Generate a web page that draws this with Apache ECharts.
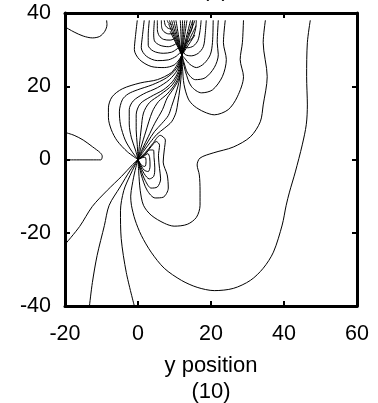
<!DOCTYPE html>
<html><head><meta charset="utf-8">
<script src="https://cdn.jsdelivr.net/npm/echarts@6/dist/echarts.min.js"></script>
<style>html,body{margin:0;padding:0;background:#fff}#c{width:378px;height:403px}</style>
</head><body><div id="c"></div>
<script>
// axis setup
const xRange = [-20, 60];
const yRange = [-40, 40];
const xLabel = 'y position\n(10)';
const titleText = '(a)';

// contour lines, data coordinates [x, y]
const cTopLeftBlob = [[-20,36.2],[-17.5,34.8],[-15,33.7],[-12.5,33.2],[-10.5,33.6],[-9.1,35],[-8.5,36.8],[-8.6,38]];
const cLeftBlob = [[-20,7.4],[-17.5,6.6],[-15,5.3],[-12.5,3.5],[-10.3,1.8],[-9.8,0.9],[-10.2,-0.1],[-20,-0.1]];
const cLeftEdge = [[-20,-23.2],[-16,-18.3],[-12.5,-12.8],[-8.4,-8.4],[-4.5,-4.6],[-1.5,-1.4],[0,0]];
const cBottom1 = [[-13.3,-40],[-12.5,-33.6],[-11.2,-26.2],[-9.2,-18.0],[-7.9,-12.5],[-4.9,-7.5],[-2.1,-2.9],[0,0]];
const cBottom2 = [[-1,-40],[-3.2,-30.9],[-4.6,-21.6],[-4.8,-14],[-3.9,-8.5],[-2.2,-4.4],[-0.8,-1.5],[0,0]];
const cBig = [[0,0],[-0.8,-3],[-1.6,-7],[-2.0,-10],[-1.8,-12.5],[-0.8,-16.5],[0.9,-20.7],[3.6,-25.3],[7.2,-29.7],[11.9,-33.0],[16.2,-34.9],[20.9,-35.8],[26.1,-35.2],[30.8,-33.0],[34.3,-29.7],[37.1,-25.3],[39.5,-17.9],[40.6,-12.5],[41.5,-8.9],[43.1,-3.4],[45.0,4.0],[46.1,9.5],[46.4,14.9],[46.2,22.6],[46.4,31.9],[47.2,38]];
const cU = [[0,0],[0.2,-3.4],[0.6,-8.4],[1.5,-12.5],[3.6,-15.2],[7.2,-17.4],[9.9,-18.2],[13.5,-17.7],[16.0,-15.8],[17.0,-12.5],[17.0,-8.4],[16.8,-4.2],[16.2,-1.5],[17.0,0.4],[20.6,1.8],[26.1,3.4],[30.8,6.2],[33.5,10.3],[34.3,14.9],[35.4,22.6],[34.3,31.9],[34.9,38]];
const loop1 = [[0,0],[2.0,1.9],[4.0,4.3],[6.1,6.6],[7.5,5.3],[7.2,2.6],[6.9,-0.7],[8.0,-4.2],[8.3,-7.8],[6.9,-10.3],[4.7,-10.5],[2.5,-8.4],[0.9,-4.2],[0,0]];
const loop2 = [[0,0],[1.9,1.5],[3.6,3.5],[5.0,4.9],[5.9,3.9],[5.6,1.0],[5.9,-2.5],[6.2,-5.3],[5.3,-7.5],[3.6,-7.8],[2.0,-5.8],[0.7,-2.6],[0,0]];
const loop3 = [[0,0],[1.8,1.2],[3.2,2.6],[4.2,2.6],[4.4,0.5],[4.6,-2.3],[4.3,-4.6],[3.1,-5.3],[1.7,-3.9],[0.6,-1.7],[0,0]];
const loop4 = [[0,0],[1.6,0.9],[2.7,1.6],[3.2,0.5],[3.3,-1.8],[2.8,-3.3],[1.7,-2.9],[0.5,-1.1],[0,0]];
const loop5 = [[0,0],[1.2,0.5],[2.0,0.6],[2.2,-0.6],[1.9,-1.9],[1.0,-1.6],[0,0]];
const tb1 = [[0,0],[-2.9,2.1],[-5.7,5.1],[-7.3,8.1],[-8.1,11.4],[-8.1,14.1],[-7.1,17.1],[-4.3,19.3],[0.6,20.9],[5.3,21.8],[9.1,23.7],[10.8,26.0],[12,28.5]];
const tb2 = [[0,0],[-1.6,2.1],[-3.5,5.3],[-4.8,9.5],[-5.1,13.0],[-4.3,16.3],[-2.7,17.9],[-0.2,19.0],[3.9,20.4],[7.8,22.3],[10.5,24.8],[12,28.5]];
const tb3 = [[0,0],[-0.7,2.6],[-1.8,5.9],[-2.4,9.7],[-2.4,13.6],[-1.3,16.0],[1.5,17.9],[5.3,19.6],[8.6,21.8],[10.8,24.5],[12,28.5]];
const tb4 = [[0,0],[-0.2,4.0],[-0.5,8.1],[-0.5,12.2],[0.6,15.2],[3.4,17.1],[6.9,19.0],[9.4,21.2],[11.0,24.0],[12,28.5]];
const tb5 = [[0,0],[0.4,4.0],[0.9,8.6],[1.5,12.7],[3.1,15.5],[6.1,17.7],[9.4,20.4],[11.3,24.0],[12,28.5]];
const tb6 = [[0,0],[0.8,3.2],[2.1,7.5],[3.9,13.0],[5.6,15.8],[8.0,17.9],[10.2,20.7],[11.6,24.0],[12,28.5]];
const tb7 = [[0,0],[1.2,2.9],[2.8,6.2],[4.6,9.9],[6.7,13.6],[8.0,16.8],[9.9,19.6],[11.3,22.3],[12,28.5]];
const tb8 = [[0,0],[1.3,2.5],[2.8,5.0],[4.5,7.6],[6.5,9.8],[8.3,12],[9.2,14.5],[10.2,17.5],[11.2,21],[11.8,25],[12,28.5]];
const tb9 = [[0,0],[1.5,2.2],[3.3,4.6],[5.2,6.9],[7.2,8.5],[9.2,10.3],[10.4,12.8],[10.9,15.5],[11.5,19.5],[11.9,24],[12,28.5]];
const jr0 = [[28.9,38],[28.6,31.9],[28.0,27.3],[28.9,22.6],[27.2,17.1],[24.7,13.6],[20.9,12.2],[18.1,13.0],[15.4,14.6],[13.8,16.5],[12.6,20.5],[12.2,25.0],[12,28.5]];
const jr1 = [[23.9,38],[23.4,31.9],[24.2,27.3],[23.1,22.6],[20.4,19.0],[17.4,18.2],[14.6,20.0],[13.0,24.0],[12.3,27],[12,28.5]];
const jr2 = [[22.0,38],[21.7,31.9],[22.0,28.6],[20.9,25.1],[18.4,22.3],[15.7,21.8],[13.6,23.6],[12.6,26.5],[12,28.5]];
const jr3 = [[20.6,38],[20.4,31.9],[19.8,28.6],[18.1,26.2],[16.0,25.1],[14.2,26.0],[12.8,27.6],[12,28.5]];
const jr4 = [[18.7,38],[18.4,34.1],[17.9,30.8],[16.5,29.0],[14.6,28.3],[13.0,28.6],[12.4,29.5]];
const jr5 = [[17.3,38],[17.0,35.2],[16.4,32.5],[15.2,31.0],[13.6,30.5],[12.8,30.8]];
const jr6 = [[16.0,38],[15.8,35.8],[15.3,34],[14.4,32.6],[13.3,32.2]];
const jr7 = [[15.0,38],[14.9,36.3],[14.5,35],[13.8,34]];
const jl1 = [[-0.2,38],[-0.7,33.6],[-1.0,30.0],[0.4,27.3],[3.6,25.4],[7.2,25.1],[9.9,25.8],[11.3,27.3],[12,28.5]];
const jl2 = [[1.7,38],[1.2,33.6],[0.9,30.5],[2.3,28.2],[5.3,27.0],[8.3,27.2],[10.5,28.2],[11.6,29.3]];
const jl3 = [[3.1,38],[2.8,34],[2.8,31.2],[4.2,29.6],[6.9,29.0],[9.2,29.3],[10.7,30.2],[11.3,30.8]];
const jl4 = [[4.5,38],[4.3,34.5],[4.5,32.4],[6,31.2],[8.3,30.8],[9.9,31.3],[10.9,32.0]];
const jl5 = [[5.3,38],[5.3,35.5],[5.8,33.8],[7.0,32.8],[8.8,32.6],[10.5,33.2]];
const jl6 = [[6.4,38],[6.5,36],[7.1,34.9],[8.4,34.3],[10.0,34.4]];
const jl7 = [[7.2,38],[7.5,36.6],[8.3,35.8],[9.6,35.6]];
const jl8 = [[8.0,38],[8.4,37.2],[9.3,36.9]];
// dense bundle inside the top singular region
const tf1 = [[8.6,38],[12,28.5]];
const tf2 = [[9.2,38],[12,28.5]];
const tf3 = [[9.8,38],[12,28.5]];
const tf4 = [[10.4,38],[12,28.5]];
const tf5 = [[11.6,38],[12,28.5]];
const tf6 = [[12.2,38],[12,28.5]];
const tf7 = [[12.8,38],[12,28.5]];
const tf8 = [[13.4,38],[12,28.5]];
const tf9 = [[14.4,38],[12,28.5]];
const tf10 = [[15.0,38],[12,28.5]];
const tf11 = [[15.6,38],[12,28.5]];
const tf12 = [[8.4,37],[12,28.5]];
const tf13 = [[15.9,36.5],[12,28.5]];
const tf14 = [[8.8,35],[12,28.5]];
const tf15 = [[15.6,34],[12,28.5]];

const contours = [cTopLeftBlob,cLeftBlob,cLeftEdge,cBottom1,cBottom2,cBig,cU,
  loop1,loop2,loop3,loop4,loop5,tb1,tb2,tb3,tb4,tb5,tb6,tb7,tb8,tb9,
  jr0,jr1,jr2,jr3,jr4,jr5,jr6,jr7,jl1,jl2,jl3,jl4,jl5,jl6,jl7,jl8,
  tf1,tf2,tf3,tf4,tf5,tf6,tf7,tf8,tf9,tf10,tf11,tf12,tf13,tf14,tf15];

const FONT = 'Liberation Sans, Arial, sans-serif';
const chart = echarts.init(document.getElementById('c'), null, {renderer:'canvas'});
const axisCommon = {
  type:'value', splitLine:{show:false},
  axisLine:{show:true, onZero:false, lineStyle:{color:'#000', width:3}},
  axisTick:{show:true, inside:true, length:5, lineStyle:{color:'#000', width:2}},
};
chart.setOption({
  animation:false,
  backgroundColor:'#fff',
  title:{text:titleText, left:197, top:-26, textStyle:{fontSize:22, fontWeight:'normal', color:'#000', fontFamily:FONT}},
  grid:{left:65, right:21, top:13, bottom:97, containLabel:false, outerBoundsMode:'none'},
  xAxis:[
    Object.assign({}, axisCommon, {position:'bottom', min:xRange[0], max:xRange[1], interval:20,
      axisLabel:{fontSize:21.5, color:'#000', fontFamily:FONT, margin:17},
      name:xLabel, nameLocation:'middle', nameGap:47,
      nameTextStyle:{fontSize:22, color:'#000', fontFamily:FONT, lineHeight:26}}),
    Object.assign({}, axisCommon, {position:'top', min:xRange[0], max:xRange[1], interval:20, axisLabel:{show:false}})
  ],
  yAxis:[
    Object.assign({}, axisCommon, {position:'left', min:yRange[0], max:yRange[1], interval:20,
      axisLabel:{fontSize:21.5, color:'#000', fontFamily:FONT, margin:14}}),
    Object.assign({}, axisCommon, {position:'right', min:yRange[0], max:yRange[1], interval:20, axisLabel:{show:false}})
  ],
  series: contours.map(d => ({
    type:'line', data:d, xAxisIndex:0, yAxisIndex:0, symbol:'none', showSymbol:false,
    smooth:0.3, silent:true, clip:true,
    lineStyle:{color:'#000', width:1}
  }))
});
</script></body></html>
